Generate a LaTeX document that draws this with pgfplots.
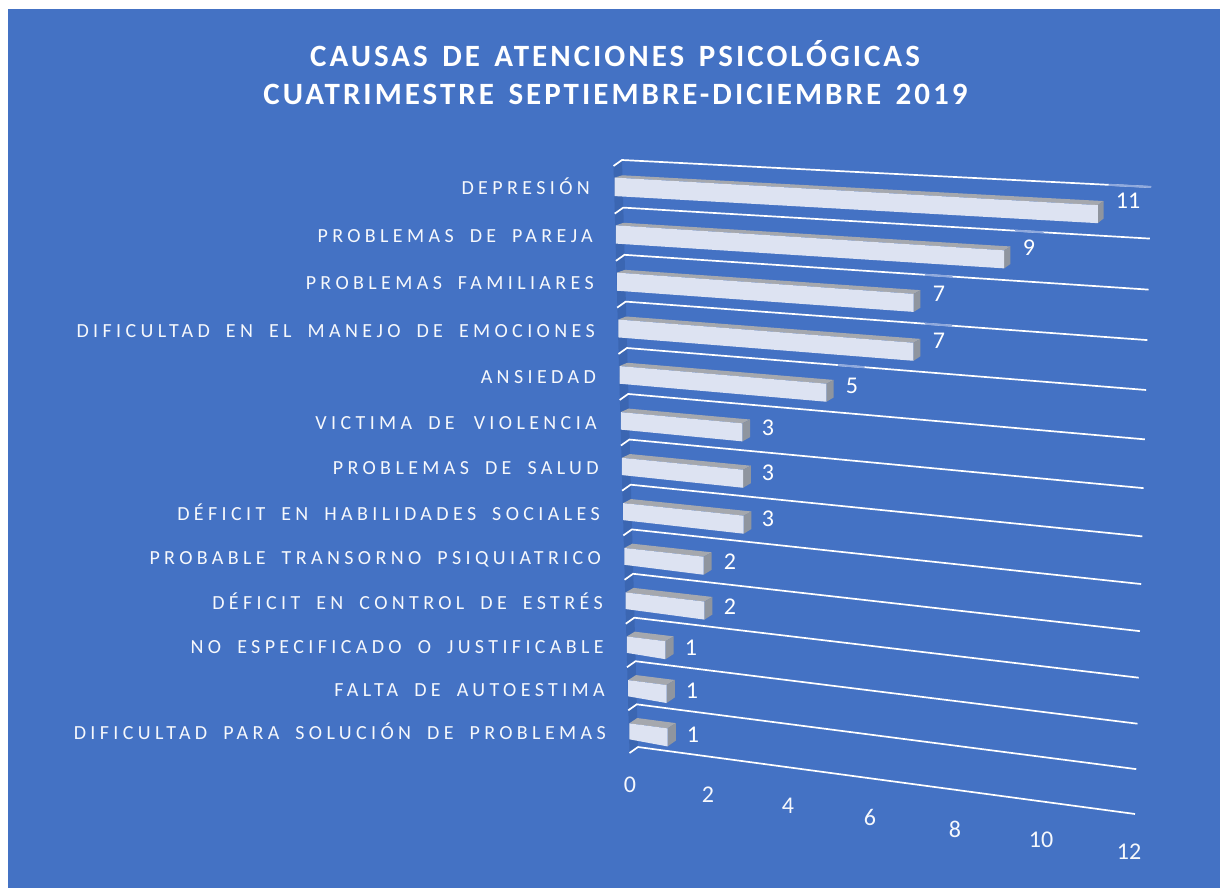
\documentclass[border=0pt]{standalone}
\usepackage{fontspec}
\usepackage{pgfplots}
\usepackage{pgfplotstable}
\pgfplotsset{compat=1.18}
\setmainfont{Carlito}
\newfontfamily\labfont[LetterSpace=21.9,WordSpace=1.8]{Carlito}
\newfontfamily\titfont[LetterSpace=9.7,WordSpace=1.45]{Carlito}
\definecolor{bg}{HTML}{4472C4}
\definecolor{wall}{HTML}{3B66B2}
\definecolor{front}{HTML}{DDE3F2}
\definecolor{topf}{HTML}{A5A8AE}
\definecolor{sidef}{HTML}{8F959F}
\definecolor{fade}{HTML}{8FA9DD}
% perspective of the chart floor: value v on grid line k -> picture position
\pgfmathdeclarefunction{fv}{1}{\pgfmathparse{(#1/12)*(0.924+0.076*#1/12)}}
\pgfmathdeclarefunction{XL}{1}{\pgfmathparse{622+16*#1/13}}
\pgfmathdeclarefunction{XR}{1}{\pgfmathparse{1151-16*#1/13}}
\pgfmathdeclarefunction{YL}{1}{\pgfmathparse{160+47.82*#1-0.205*#1*#1}}
\pgfmathdeclarefunction{YR}{1}{\pgfmathparse{187+51.87*#1-0.28*#1*#1}}
\pgfmathdeclarefunction{PX}{2}{\pgfmathparse{XL(#2)+fv(#1)*(XR(#2)-XL(#2))}}
\pgfmathdeclarefunction{PY}{2}{\pgfmathparse{YL(#2)+fv(#1)*(YR(#2)-YL(#2))}}
\pgfplotstableread[col sep=comma]{
row,value,lx,ly,nx,ny,name
0,11,1128,201,590,187,DEPRESIÓN
1,9,1029,248,593,235,PROBLEMAS DE PAREJA
2,7,939,294,594,282,PROBLEMAS FAMILIARES
3,7,939,341,595,330,DIFICULTAD EN EL MANEJO DE EMOCIONES
4,5,852,386,596,376,ANSIEDAD
5,3,768,428,597,422,VICTIMA DE\space\kern3pt VIOLENCIA
6,3,768,473,599,467,PROBLEMAS DE SALUD
7,3,768,519,600,513,DÉFICIT EN HABILIDADES SOCIALES
8,2,730,562,601,557,PROBABLE TRANSORNO PSIQUIATRICO
9,2,730,607,603,602,DÉFICIT EN CONTROL DE ESTRÉS
10,1,691,648,604,646,NO ESPECIFICADO O JUSTIFICABLE
11,1,692,691,605,689,FALTA DE AUTOESTIMA
12,1,693,735,606,732,DIFICULTAD PARA SOLUCIÓN DE PROBLEMAS
}\causes
\pgfplotstableread{
tick tx ty
0 630 785
2 708 795
4 788 806
6 870 817
8 955 829
10 1041 840
12 1129 852
}\ticksT
\begin{document}
\begin{tikzpicture}
\begin{axis}[
  scale only axis, width=1220pt, height=888pt,
  xmin=0, xmax=1220, ymin=0, ymax=888, y dir=reverse,
  axis lines=none, clip=false]
\addplot[fill=white,draw=none,forget plot] coordinates {(0,0)(1220,0)(1220,888)(0,888)} --cycle;
\addplot[fill=bg,draw=none,forget plot] coordinates {(8,9)(1220,9)(1220,888)(8,888)} --cycle;
\addplot[fill=wall,draw=none,forget plot] coordinates {(622,160)(638,747)(629.5,753)(613.5,166)} --cycle;
% grid lines
\pgfplotsinvokeforeach{0,...,13}{
  \pgfmathsetmacro\ax{XL(#1)-8.5}\pgfmathsetmacro\ay{YL(#1)+6}
  \pgfmathsetmacro\bx{XL(#1)}\pgfmathsetmacro\by{YL(#1)}
  \pgfmathsetmacro\cx{XR(#1)}\pgfmathsetmacro\cy{YR(#1)}
  \addplot[white,line width=1.7pt,forget plot] coordinates {(\ax,\ay)(\bx,\by)(\cx,\cy)};
}
% bars
\pgfplotsinvokeforeach{0,...,12}{
  \pgfplotstablegetelem{#1}{value}\of\causes \let\V\pgfplotsretval
  \ifnum#1<5
    \pgfmathsetmacro\ua{\V+0.1}
    \pgfmathsetmacro\ub{min(12,\V+0.72+(#1==0)*0.3)}
    \pgfmathsetmacro\gax{PX(\ua,#1)}\pgfmathsetmacro\gay{PY(\ua,#1)}
    \pgfmathsetmacro\gbx{PX(\ub,#1)}\pgfmathsetmacro\gby{PY(\ub,#1)}
    \addplot[fade,line width=2pt,forget plot] coordinates {(\gax,\gay)(\gbx,\gby)};
  \fi
  \pgfmathsetmacro\k{#1+0.32}
  \pgfmathsetmacro\f{fv(\V)}
  \pgfmathsetmacro\bax{XL(\k)}\pgfmathsetmacro\bay{YL(\k)}
  \pgfmathsetmacro\bbx{PX(\V,\k)}\pgfmathsetmacro\bby{PY(\V,\k)}
  \pgfmathsetmacro\fax{\bax-7.8}\pgfmathsetmacro\fay{\bay+2.3+3*#1/12}
  \pgfmathsetmacro\fbx{\bbx-8.5+3*\f}\pgfmathsetmacro\fby{\bby+2.3+3*#1/12+2*\f*(1-#1/12)}
  \pgfmathsetmacro\hl{18.5-2.5*#1/12}
  \pgfmathsetmacro\gay{\fay+\hl}
  \pgfmathsetmacro\gby{\fby+18}
  \pgfmathsetmacro\bcy{\bby+17.5}
  \addplot[fill=topf,draw=none,forget plot] coordinates {(\bax,\bay)(\bbx,\bby)(\fbx,\fby)(\fax,\fay)} --cycle;
  \addplot[fill=sidef,draw=none,forget plot] coordinates {(\bbx,\bby)(\bbx,\bcy)(\fbx,\gby)(\fbx,\fby)} --cycle;
  \addplot[fill=front,draw=none,forget plot] coordinates {(\fax,\fay)(\fbx,\fby)(\fbx,\gby)(\fax,\gay)} --cycle;
  \pgfplotstablegetelem{#1}{lx}\of\causes \let\LX\pgfplotsretval
  \pgfplotstablegetelem{#1}{ly}\of\causes \let\LY\pgfplotsretval
  \edef\temp{\noexpand\node[text=white,font=\noexpand\fontsize{24}{28}\noexpand\selectfont] at (axis cs:\LX,\LY) {\V};}\temp
  \pgfplotstablegetelem{#1}{nx}\of\causes \let\NX\pgfplotsretval
  \pgfplotstablegetelem{#1}{ny}\of\causes \let\NY\pgfplotsretval
  \pgfplotstablegetelem{#1}{name}\of\causes
  \edef\temp{\noexpand\node[anchor=base east,inner sep=0pt,yshift=-7pt,text=white!95!bg,font=\noexpand\labfont\noexpand\fontsize{20}{24}\noexpand\selectfont] at (axis cs:\NX,\NY) {\pgfplotsretval};}\temp
}
% value axis labels
\pgfplotsinvokeforeach{0,...,6}{
  \pgfplotstablegetelem{#1}{tick}\of\ticksT \let\TT\pgfplotsretval
  \pgfplotstablegetelem{#1}{tx}\of\ticksT \let\TX\pgfplotsretval
  \pgfplotstablegetelem{#1}{ty}\of\ticksT \let\TY\pgfplotsretval
  \edef\temp{\noexpand\node[text=white!95!bg,font=\noexpand\fontsize{24}{28}\noexpand\selectfont] at (axis cs:\TX,\TY) {\TT};}\temp
}
\node[text=white,font=\titfont\bfseries\fontsize{31}{37}\selectfont] at (axis cs:615,54) {CAUSAS DE ATENCIONES PSICOLÓGICAS};
\node[text=white,font=\titfont\bfseries\fontsize{31}{37}\selectfont] at (axis cs:615.5,94) {CUATRIMESTRE SEPTIEMBRE-DICIEMBRE 2019};
\end{axis}
\end{tikzpicture}
\end{document}
